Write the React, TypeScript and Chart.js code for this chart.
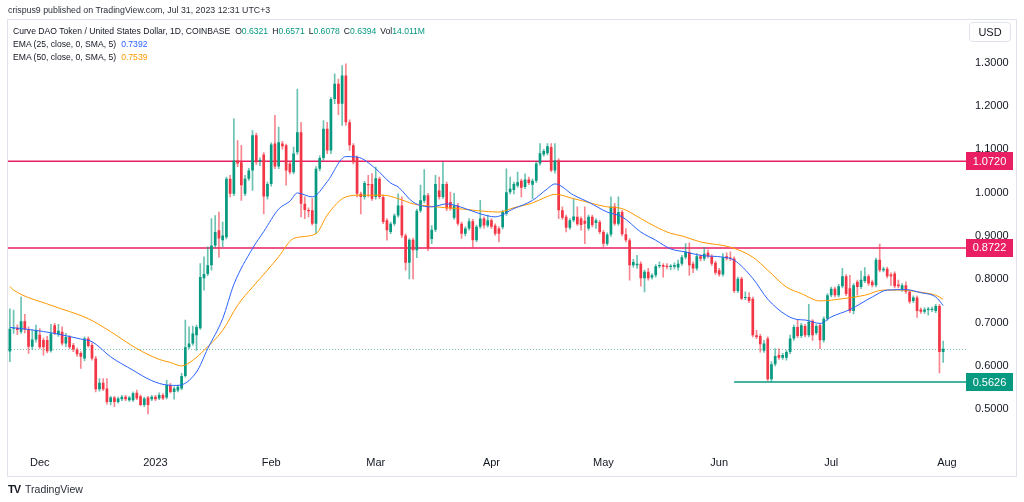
import React, { useEffect, useRef } from "react";
import { Chart, registerables } from "chart.js";

Chart.register(...registerables);

// ---------- DATA ----------
const startYear = 2022;
const startMonth = 10; // November (0-based)
const startDay = 23;
const extraDays = 4; // empty days after the last candle

const opens = [0.633,0.686,0.688,0.679,0.703,0.684,0.644,0.661,0.672,0.660,
0.660,0.635,0.694,0.673,0.679,0.652,0.667,0.648,0.638,0.630,
0.617,0.663,0.648,0.617,0.546,0.561,0.548,0.517,0.527,0.517,
0.523,0.529,0.521,0.521,0.538,0.530,0.510,0.527,0.523,0.529,
0.525,0.533,0.527,0.556,0.540,0.543,0.548,0.577,0.643,0.652,
0.671,0.687,0.802,0.812,0.832,0.878,0.913,0.890,0.897,1.032,
0.997,1.074,1.070,0.997,1.032,1.051,1.132,1.072,1.088,0.991,
1.020,1.113,1.060,1.113,1.109,1.067,1.047,1.093,1.139,0.974,
0.960,0.959,0.928,1.055,1.080,1.147,1.097,1.216,1.251,1.205,
1.270,1.162,1.109,1.082,0.997,0.990,1.020,1.020,0.990,1.032,
0.990,0.936,0.909,0.928,0.947,0.970,0.901,0.838,0.891,0.867,
0.958,0.981,0.994,0.893,0.914,1.005,0.990,1.020,0.978,0.942,
0.970,0.928,0.905,0.917,0.934,0.890,0.921,0.940,0.924,0.936,
0.924,0.917,0.920,0.951,1.001,1.006,1.016,1.027,1.013,1.030,
1.018,1.027,1.067,1.088,1.091,1.105,1.051,1.074,0.959,0.944,
0.919,0.936,0.944,0.940,0.935,0.917,0.944,0.930,0.932,0.909,
0.882,0.903,0.968,0.928,0.955,0.904,0.890,0.832,0.832,0.836,
0.802,0.817,0.804,0.809,0.830,0.833,0.831,0.828,0.829,0.827,
0.836,0.851,0.863,0.836,0.825,0.853,0.847,0.861,0.853,0.838,
0.821,0.811,0.853,0.850,0.848,0.773,0.801,0.757,0.759,0.755,
0.671,0.669,0.635,0.663,0.569,0.604,0.625,0.619,0.619,0.632,
0.663,0.690,0.669,0.692,0.671,0.704,0.676,0.694,0.659,0.709,
0.763,0.778,0.763,0.784,0.807,0.779,0.727,0.794,0.782,0.796,
0.807,0.794,0.786,0.845,0.821,0.824,0.811,0.813,0.788,0.776,
0.786,0.771,0.750,0.758,0.730,0.725,0.729,0.729,0.727,0.738,
0.6321];

const highs = [0.732,0.729,0.695,0.759,0.719,0.690,0.683,0.694,0.686,0.664,
0.668,0.696,0.698,0.696,0.690,0.675,0.670,0.652,0.641,0.633,
0.667,0.667,0.653,0.622,0.571,0.571,0.571,0.530,0.530,0.528,
0.532,0.532,0.530,0.540,0.544,0.533,0.528,0.530,0.532,0.532,
0.538,0.536,0.567,0.560,0.552,0.556,0.583,0.706,0.690,0.692,
0.694,0.836,0.852,0.875,0.940,0.947,0.955,0.932,1.036,1.040,
1.170,1.120,1.109,1.040,1.056,1.143,1.137,1.080,1.092,1.024,
1.115,1.178,1.151,1.118,1.112,1.070,1.105,1.239,1.162,0.990,
0.965,0.986,1.060,1.085,1.166,1.162,1.220,1.274,1.262,1.293,
1.297,1.168,1.113,1.085,1.001,1.026,1.040,1.044,1.059,1.036,
0.994,0.940,0.932,0.951,0.997,0.990,0.905,0.894,0.895,0.962,
1.017,1.053,0.998,0.924,1.040,1.036,1.070,1.024,1.001,0.998,
0.975,0.932,0.921,0.940,0.938,0.925,0.982,0.944,0.948,0.940,
0.928,0.921,0.959,1.055,1.036,1.024,1.047,1.031,1.043,1.036,
1.031,1.071,1.113,1.100,1.113,1.113,1.113,1.078,0.967,0.948,
0.940,0.986,0.967,0.944,0.967,0.948,0.948,0.940,0.936,0.913,
0.907,0.990,0.975,0.990,0.959,0.917,0.894,0.846,0.855,0.840,
0.821,0.825,0.813,0.834,0.840,0.836,0.836,0.834,0.838,0.844,
0.855,0.882,0.884,0.840,0.859,0.857,0.873,0.868,0.857,0.842,
0.825,0.859,0.861,0.863,0.852,0.805,0.805,0.771,0.769,0.759,
0.682,0.673,0.659,0.667,0.610,0.640,0.640,0.629,0.636,0.671,
0.694,0.707,0.698,0.696,0.742,0.707,0.696,0.698,0.713,0.767,
0.782,0.782,0.788,0.825,0.811,0.809,0.790,0.798,0.819,0.827,
0.811,0.798,0.849,0.881,0.828,0.828,0.815,0.817,0.798,0.790,
0.794,0.775,0.762,0.762,0.734,0.734,0.735,0.736,0.742,0.742,
0.6571];

const lows = [0.610,0.675,0.672,0.675,0.676,0.629,0.638,0.655,0.640,0.625,
0.630,0.632,0.672,0.668,0.648,0.645,0.640,0.633,0.622,0.594,
0.612,0.643,0.613,0.540,0.542,0.543,0.512,0.510,0.506,0.514,
0.520,0.520,0.518,0.518,0.522,0.508,0.506,0.489,0.520,0.520,
0.522,0.522,0.524,0.537,0.523,0.540,0.545,0.574,0.640,0.648,
0.636,0.684,0.775,0.808,0.821,0.874,0.851,0.875,0.893,0.990,
0.993,1.060,0.982,0.993,1.028,1.005,1.065,1.062,0.951,0.985,
1.015,1.055,1.055,1.100,1.017,1.043,1.043,1.088,0.944,0.940,
0.944,0.925,0.905,1.050,1.075,1.090,1.090,1.205,1.180,1.155,
1.155,1.097,1.066,0.990,0.951,0.985,0.990,0.982,0.985,0.986,
0.928,0.890,0.905,0.924,0.943,0.896,0.821,0.801,0.801,0.850,
0.954,0.976,0.866,0.882,0.910,0.985,0.986,0.958,0.959,0.938,
0.924,0.894,0.900,0.913,0.874,0.886,0.917,0.918,0.920,0.917,
0.901,0.886,0.916,0.947,0.997,0.997,1.012,0.990,1.009,1.018,
0.986,1.023,1.063,1.084,1.087,1.048,1.045,0.940,0.938,0.909,
0.915,0.932,0.924,0.913,0.882,0.913,0.921,0.917,0.905,0.875,
0.878,0.899,0.924,0.924,0.900,0.886,0.798,0.828,0.825,0.784,
0.771,0.798,0.800,0.805,0.826,0.805,0.824,0.822,0.824,0.821,
0.832,0.847,0.809,0.815,0.821,0.842,0.843,0.849,0.832,0.811,
0.807,0.807,0.844,0.843,0.769,0.769,0.753,0.753,0.746,0.667,
0.663,0.632,0.631,0.566,0.563,0.600,0.615,0.615,0.613,0.628,
0.659,0.665,0.665,0.667,0.667,0.659,0.672,0.640,0.655,0.705,
0.759,0.759,0.759,0.780,0.762,0.723,0.720,0.763,0.778,0.792,
0.786,0.782,0.782,0.817,0.817,0.803,0.786,0.780,0.780,0.772,
0.767,0.744,0.746,0.712,0.721,0.721,0.717,0.725,0.723,0.584,
0.6078];

const closes = [0.686,0.688,0.683,0.703,0.684,0.644,0.661,0.683,0.643,0.643,
0.634,0.675,0.675,0.681,0.652,0.667,0.643,0.638,0.627,0.621,
0.663,0.646,0.617,0.546,0.561,0.546,0.517,0.527,0.517,0.525,
0.529,0.523,0.527,0.537,0.525,0.510,0.525,0.510,0.529,0.523,
0.533,0.525,0.556,0.540,0.548,0.552,0.577,0.643,0.652,0.675,
0.690,0.805,0.812,0.832,0.878,0.909,0.894,0.901,1.032,0.997,
1.074,1.067,1.017,1.032,1.051,1.132,1.070,1.075,0.991,1.020,
1.111,1.060,1.116,1.107,1.051,1.047,1.090,1.139,0.974,0.960,
0.957,0.928,1.055,1.080,1.147,1.097,1.216,1.251,1.205,1.270,
1.162,1.109,1.070,0.997,0.990,1.022,1.017,0.986,1.033,0.990,
0.932,0.913,0.928,0.947,0.970,0.901,0.838,0.891,0.867,0.958,
0.982,0.994,0.871,0.914,1.020,0.990,1.020,0.963,0.963,0.970,
0.928,0.905,0.917,0.934,0.890,0.921,0.940,0.924,0.936,0.921,
0.905,0.905,0.955,1.001,1.009,1.020,1.024,1.011,1.030,1.022,
1.027,1.067,1.091,1.096,1.107,1.051,1.074,0.959,0.942,0.919,
0.936,0.945,0.927,0.925,0.928,0.944,0.925,0.936,0.909,0.882,
0.903,0.968,0.928,0.955,0.904,0.890,0.832,0.840,0.836,0.802,
0.817,0.802,0.809,0.830,0.833,0.829,0.828,0.831,0.833,0.836,
0.851,0.863,0.832,0.825,0.853,0.847,0.859,0.853,0.836,0.815,
0.811,0.851,0.848,0.847,0.773,0.801,0.755,0.759,0.750,0.671,
0.667,0.650,0.652,0.569,0.604,0.623,0.619,0.625,0.632,0.663,
0.690,0.669,0.694,0.671,0.702,0.671,0.692,0.659,0.709,0.763,
0.778,0.763,0.784,0.807,0.766,0.727,0.786,0.782,0.799,0.807,
0.790,0.786,0.845,0.821,0.824,0.807,0.807,0.784,0.784,0.786,
0.771,0.748,0.758,0.727,0.725,0.730,0.732,0.732,0.738,0.632,
0.6394];

// EMA readings (day index, value)
const ema25Days = [0,6,12,19,22,27,33,38,42,45,50,53,57,60,65,68,72,75,77,81,85,90,93,98,102,104,108,113,117,122,126,130,135,140,144,146,151,155,160,164,169,173,177,181,185,191,194,199,203,208,211,213,217,220,225,231,235,240,244,248,250];
const ema25Values = [0.689,0.683,0.675,0.662,0.656,0.621,0.590,0.566,0.556,0.555,0.586,0.640,0.709,0.788,0.871,0.910,0.962,0.980,0.999,0.990,1.025,1.083,1.082,1.055,1.022,1.013,0.978,0.967,0.974,0.963,0.951,0.944,0.963,0.982,1.009,1.020,0.994,0.978,0.955,0.944,0.909,0.890,0.870,0.863,0.855,0.851,0.844,0.802,0.754,0.717,0.707,0.706,0.698,0.713,0.730,0.759,0.775,0.776,0.769,0.759,0.7392];

const ema50Days = [0,1,11,21,27,34,40,43,46,49,52,57,61,65,69,72,76,82,85,90,94,100,104,108,113,120,131,135,140,144,146,151,160,164,169,173,177,180,185,193,199,203,208,212,217,223,229,234,239,243,248,250];
const ema50Values = [0.783,0.775,0.740,0.709,0.679,0.640,0.615,0.608,0.600,0.613,0.636,0.682,0.740,0.782,0.821,0.852,0.894,0.905,0.948,0.990,0.994,0.994,0.986,0.974,0.968,0.963,0.955,0.965,0.976,0.991,0.996,0.986,0.967,0.963,0.940,0.921,0.906,0.900,0.886,0.874,0.851,0.821,0.782,0.767,0.750,0.755,0.763,0.775,0.775,0.771,0.763,0.7539];

const resistanceLevels = [1.072, 0.8722];
const supportLevel = 0.5626;
const supportStartDay = 194;
const lastPrice = 0.6394;

const yTickValues = [0.5, 0.6, 0.7, 0.8, 0.9, 1.0, 1.1, 1.2, 1.3];
const yMin = 0.4129;
const yMax = 1.3945;

const monthTickDates = ["2022-12-01","2023-01-01","2023-02-01","2023-03-01","2023-04-01","2023-05-01","2023-06-01","2023-07-01","2023-08-01"];
const monthTickTexts = ["Dec","2023","Feb","Mar","Apr","May","Jun","Jul","Aug"];

// ---------- STYLE ----------
const UP = "#089981";
const DOWN = "#F23645";
const UP_WICK = "rgba(8,153,129,0.6)";
const DOWN_WICK = "rgba(242,54,69,0.6)";
const LEVEL_RED = "#E91E63";
const FONT = '"Liberation Sans", Arial, sans-serif';
const TEXT = "#131722";

const labels: string[] = [];
for (let i = 0; i < opens.length + extraDays; i++) {
  const d = new Date(Date.UTC(startYear, startMonth, startDay + i));
  labels.push(d.toISOString().slice(0, 10));
}

const overlayPlugin = {
  id: "tvOverlay",
  beforeDatasetsDraw(chart: any) {
    const { ctx, chartArea, scales } = chart;
    const y = scales.y;
    const x = scales.x;
    const lineEnd = chartArea.right + 6;
    ctx.save();
    const py = Math.round(y.getPixelForValue(lastPrice)) + 0.5;
    ctx.setLineDash([1, 2]);
    ctx.strokeStyle = "rgba(8,153,129,0.55)";
    ctx.lineWidth = 1;
    ctx.beginPath();
    ctx.moveTo(chartArea.left, py);
    ctx.lineTo(lineEnd, py);
    ctx.stroke();
    ctx.setLineDash([]);
    ctx.strokeStyle = LEVEL_RED;
    ctx.lineWidth = 1.5;
    resistanceLevels.forEach((lv) => {
      const ly = y.getPixelForValue(lv);
      ctx.beginPath();
      ctx.moveTo(chartArea.left, ly);
      ctx.lineTo(lineEnd, ly);
      ctx.stroke();
    });
    ctx.strokeStyle = UP;
    const sy = y.getPixelForValue(supportLevel);
    ctx.beginPath();
    ctx.moveTo(x.getPixelForValue(supportStartDay), sy);
    ctx.lineTo(lineEnd, sy);
    ctx.stroke();
    ctx.restore();
  },
  afterDraw(chart: any) {
    const { ctx, chartArea, scales } = chart;
    const y = scales.y;
    const tagX = chartArea.right + 6;
    const tagW = 47;
    const tagH = 18;
    ctx.save();
    const tag = (v: number, color: string) => {
      const ty = y.getPixelForValue(v);
      ctx.fillStyle = color;
      ctx.fillRect(tagX, Math.round(ty - tagH / 2), tagW, tagH);
      ctx.fillStyle = "#ffffff";
      ctx.font = `11px ${FONT}`;
      ctx.textAlign = "center";
      ctx.textBaseline = "middle";
      ctx.fillText(v.toFixed(4), tagX + tagW / 2, ty + 0.5);
    };
    resistanceLevels.forEach((lv) => tag(lv, LEVEL_RED));
    tag(supportLevel, UP);
    ctx.restore();
  },
};

export default function App() {
  const canvasRef = useRef<HTMLCanvasElement | null>(null);

  useEffect(() => {
    const canvas = canvasRef.current;
    if (!canvas) return;
    const n = opens.length;
    const colors = opens.map((o, i) => (closes[i] >= o ? UP : DOWN));
    const wickColors = opens.map((o, i) => (closes[i] >= o ? UP_WICK : DOWN_WICK));
    const wickData = labels.map((_, i) => (i < n ? [lows[i], highs[i]] : null));
    const bodyData = labels.map((_, i) => (i < n ? [opens[i], closes[i]] : null));

    const chart = new Chart(canvas, {
      type: "bar",
      data: {
        labels,
        datasets: [
          {
            type: "line",
            label: "EMA 25",
            data: ema25Days.map((d, k) => ({ x: labels[d], y: ema25Values[k] })) as any,
            borderColor: "#2962FF",
            borderWidth: 1,
            pointRadius: 0,
            cubicInterpolationMode: "monotone",
            order: 1,
          } as any,
          {
            type: "line",
            label: "EMA 50",
            data: ema50Days.map((d, k) => ({ x: labels[d], y: ema50Values[k] })) as any,
            borderColor: "#FF9800",
            borderWidth: 1,
            pointRadius: 0,
            cubicInterpolationMode: "monotone",
            order: 1,
          } as any,
          {
            label: "bodies",
            data: bodyData as any,
            backgroundColor: colors,
            borderWidth: 0,
            grouped: false,
            barPercentage: 0.72,
            categoryPercentage: 1,
            minBarLength: 1,
            order: 2,
          } as any,
          {
            label: "wicks",
            data: wickData as any,
            backgroundColor: wickColors,
            borderWidth: 0,
            grouped: false,
            barThickness: 1,
            order: 3,
          } as any,
        ],
      },
      options: {
        responsive: false,
        animation: false,
        devicePixelRatio: 1,
        layout: { padding: { left: 8, right: 8, top: 21, bottom: 27 } },
        plugins: {
          legend: { display: false },
          tooltip: { enabled: false },
        },
        scales: {
          x: {
            type: "category",
            offset: true,
            grid: { display: false, drawTicks: false },
            border: { display: false },
            ticks: {
              autoSkip: false,
              maxRotation: 0,
              padding: 9,
              color: TEXT,
              font: { family: FONT, size: 11 },
              callback: function (this: any, value: any) {
                const lab = this.getLabelForValue(value);
                const k = monthTickDates.indexOf(lab);
                return k >= 0 ? monthTickTexts[k] : "";
              },
            },
            afterFit: (s: any) => {
              s.height = 28;
            },
          },
          y: {
            position: "right",
            min: yMin,
            max: yMax,
            grid: { display: false, drawTicks: false },
            border: { display: false },
            ticks: {
              padding: 15,
              color: TEXT,
              font: { family: FONT, size: 11 },
              callback: (v: any) => Number(v).toFixed(4),
            },
            afterBuildTicks: (s: any) => {
              s.ticks = yTickValues.map((v) => ({ value: v }));
            },
            afterFit: (s: any) => {
              s.width = 56;
            },
          },
        },
      } as any,
      plugins: [overlayPlugin],
    });
    return () => chart.destroy();
  }, []);

  const val: React.CSSProperties = { color: UP };
  const row: React.CSSProperties = { position: "absolute", left: 13, fontSize: 8.6, whiteSpace: "nowrap", color: TEXT };

  return (
    <div style={{ position: "absolute", left: 0, top: 0, width: 1024, height: 502, background: "#fff", fontFamily: FONT, overflow: "hidden" }}>
      <canvas ref={canvasRef} width={1024} height={502} style={{ position: "absolute", left: 0, top: 0, width: 1024, height: 502 }} />
      <div style={{ position: "absolute", left: 7, top: 19, width: 1008, height: 456, border: "1px solid #e0e3eb", pointerEvents: "none" }} />
      <div style={{ position: "absolute", left: 8, top: 5, fontSize: 8.8, color: "#2a2e39", whiteSpace: "nowrap" }}>
        crispus9 published on TradingView.com, Jul 31, 2023 12:31 UTC+3
      </div>
      <div style={{ ...row, top: 26 }}>
        <span>Curve DAO Token / United States Dollar, 1D, COINBASE</span>
        <span style={{ marginLeft: 5 }}>O</span><span style={val}>0.6321</span>
        <span style={{ marginLeft: 4 }}>H</span><span style={val}>0.6571</span>
        <span style={{ marginLeft: 4 }}>L</span><span style={val}>0.6078</span>
        <span style={{ marginLeft: 4 }}>C</span><span style={val}>0.6394</span>
        <span style={{ marginLeft: 4 }}>Vol</span><span style={val}>14.011M</span>
      </div>
      <div style={{ ...row, top: 39 }}>
        <span>EMA (25, close, 0, SMA, 5)</span>
        <span style={{ marginLeft: 5, color: "#2962FF" }}>0.7392</span>
      </div>
      <div style={{ ...row, top: 52 }}>
        <span>EMA (50, close, 0, SMA, 5)</span>
        <span style={{ marginLeft: 5, color: "#FF9800" }}>0.7539</span>
      </div>
      <div style={{ position: "absolute", left: 969, top: 22, width: 42, height: 20, border: "1px solid #e0e3eb", borderRadius: 4, boxSizing: "border-box", fontSize: 11, color: TEXT, display: "flex", alignItems: "center", justifyContent: "center" }}>
        USD
      </div>
      <div style={{ position: "absolute", left: 8, top: 483, display: "flex", alignItems: "center", whiteSpace: "nowrap" }}>
        <span style={{ fontWeight: 900, fontSize: 11, color: TEXT, letterSpacing: -1, marginRight: 5 }}>TV</span>
        <span style={{ fontSize: 10.5, color: "#2a2e39" }}>TradingView</span>
      </div>
    </div>
  );
}
